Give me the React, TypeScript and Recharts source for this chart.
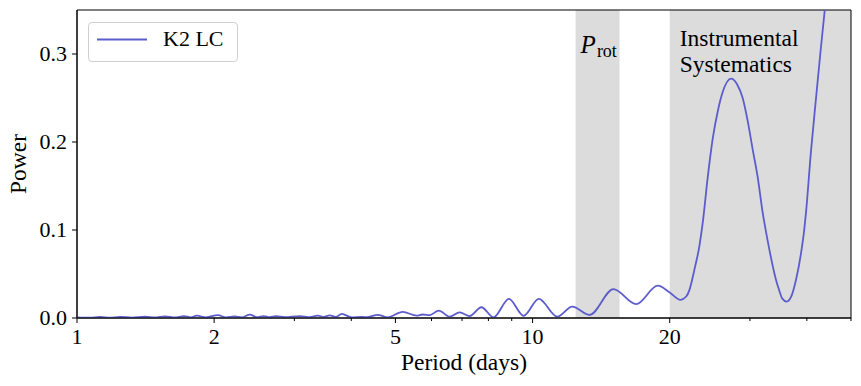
import React from "react";
import { ComposedChart, Line, XAxis, YAxis, ReferenceArea, Legend } from "recharts";

const periods = [
  1.0, 1.068, 1.123, 1.181, 1.243, 1.32, 1.41, 1.483, 1.56, 1.64, 1.717, 1.778, 1.833, 1.919,
  2.038, 2.122, 2.221, 2.3, 2.395, 2.481, 2.571, 2.65, 2.732, 2.859, 3.083, 3.243, 3.377, 3.481,
  3.588, 3.698, 3.812, 4.009, 4.217, 4.347, 4.573, 4.809, 5.187, 5.568, 5.74, 5.945, 6.222, 6.577,
  6.918, 7.276, 7.72, 8.212, 8.873, 9.557, 10.32, 11.33, 12.22, 13.34, 15.05, 16.88, 18.83, 20.0,
  21.12, 21.74, 22.1, 22.66, 23.24, 23.63, 24.24, 24.86, 25.5, 26.15, 27.28, 28.09, 28.92, 29.66,
  30.41, 31.2, 31.99, 32.81, 33.09, 34.22, 34.81, 35.34, 36.12, 36.93, 37.87, 38.85, 39.49, 39.83,
  40.85, 41.9, 42.81, 43.85, 45.96,
];
const powers = [
  0.0008, 0.0004, 0.0012, 0.0004, 0.0012, 0.0005, 0.0014, 0.0006, 0.0018, 0.0006, 0.0022, 0.0008, 0.0026, 0.0008,
  0.0032, 0.0008, 0.0018, 0.0008, 0.0038, 0.001, 0.0022, 0.001, 0.002, 0.001, 0.0022, 0.001, 0.0028, 0.0012,
  0.003, 0.0012, 0.0046, 0.0008, 0.0012, 0.001, 0.0036, 0.0008, 0.007, 0.0027, 0.004, 0.0032, 0.0084, 0.0015,
  0.0065, 0.0022, 0.0122, 0.0008, 0.0218, 0.0025, 0.0218, 0.0015, 0.013, 0.0034, 0.0328, 0.0157, 0.0367, 0.029,
  0.0206, 0.0244, 0.032, 0.055, 0.082, 0.108, 0.16, 0.204, 0.235, 0.257, 0.272, 0.266, 0.25, 0.224,
  0.192, 0.16, 0.12, 0.088, 0.078, 0.0435, 0.031, 0.022, 0.0187, 0.024, 0.0435, 0.074, 0.101, 0.12,
  0.19, 0.25, 0.3, 0.353, 0.46,
];

const xTicks = [1, 2, 3, 4, 5, 6, 7, 8, 9, 10, 20, 30, 40, 50];
const xLabelled = [1, 2, 5, 10, 20];
const yTicks = [0, 0.1, 0.2, 0.3];
const protRange = [12.43, 15.52];
const instRange = [20, 50];
const seriesName = "K2 LC";
const LINE_COLOR = "#5c5ccc";
const FONT = "Liberation Serif";

const data = periods.map((p, i) => ({ p, power: powers[i] }));

const txt = { fontFamily: FONT };

const XTick = (props: any) => {
  const { x, y, payload } = props;
  const major = xLabelled.includes(payload.value);
  return (
    <g>
      <line x1={x} x2={x} y1={y} y2={y + (major ? 5 : 3)} stroke="#000" strokeWidth={1} />
      {major && (
        <text x={x} y={y + 26} textAnchor="middle" style={txt} fontSize={22} fill="#000">
          {payload.value}
        </text>
      )}
    </g>
  );
};

const YTick = (props: any) => {
  const { x, y, payload } = props;
  return (
    <g>
      <line x1={x - 5} x2={x} y1={y} y2={y} stroke="#000" strokeWidth={1} />
      <text x={x - 10} y={y + 7} textAnchor="end" style={txt} fontSize={22} fill="#000">
        {Number(payload.value).toFixed(1)}
      </text>
    </g>
  );
};

const XLabel = (props: any) => {
  const vb = props.viewBox || {};
  return (
    <text x={vb.x + vb.width / 2} y={vb.y + 52} textAnchor="middle" style={txt} fontSize={23.5} fill="#000">
      Period (days)
    </text>
  );
};

const YLabel = (props: any) => {
  const vb = props.viewBox || {};
  const cx = vb.x + 26;
  const cy = vb.y + vb.height / 2;
  return (
    <text x={cx} y={cy} transform={`rotate(-90 ${cx} ${cy})`} textAnchor="middle" style={txt} fontSize={23.5} fill="#000">
      Power
    </text>
  );
};

const ProtLabel = (props: any) => {
  const vb = props.viewBox || {};
  return (
    <text x={vb.x + 5} y={vb.y + 43} style={txt} fill="#000">
      <tspan fontSize={25} fontStyle="italic">P</tspan>
      <tspan fontSize={18} dy={4} dx={1}>rot</tspan>
    </text>
  );
};

const InstLabel = (props: any) => {
  const vb = props.viewBox || {};
  return (
    <text style={txt} fontSize={23.5} fill="#000">
      <tspan x={vb.x + 10} y={vb.y + 36}>Instrumental</tspan>
      <tspan x={vb.x + 10} y={vb.y + 62}>Systematics</tspan>
    </text>
  );
};

const LegendBox = () => (
  <div
    style={{
      width: 148,
      height: 38,
      border: "1px solid #d0d0d0",
      borderRadius: 4,
      background: "rgba(255,255,255,0.85)",
      position: "relative",
      fontFamily: FONT,
      fontSize: 22,
    }}
  >
    <svg width={60} height={38} style={{ position: "absolute", left: 0, top: 0 }}>
      <line x1={8} x2={58} y1={16.5} y2={16.5} stroke={LINE_COLOR} strokeWidth={2} />
    </svg>
    <span style={{ position: "absolute", left: 74, top: 3, lineHeight: "26px", color: "#000" }}>{seriesName}</span>
  </div>
);

export default function App() {
  return (
    <div style={{ position: "absolute", left: 0, top: 0, width: 861, height: 386, background: "#fff" }}>
      <ComposedChart
        width={861}
        height={386}
        data={data}
        margin={{ top: 10, right: 10, bottom: 0, left: 0 }}
      >
        <ReferenceArea
          x1={protRange[0]}
          x2={protRange[1]}
          y1={0}
          y2={0.35}
          fill="#dcdcdc"
          fillOpacity={1}
          stroke="none"
          label={<ProtLabel />}
        />
        <ReferenceArea
          x1={instRange[0]}
          x2={instRange[1]}
          y1={0}
          y2={0.35}
          fill="#dcdcdc"
          fillOpacity={1}
          stroke="none"
          label={<InstLabel />}
        />
        <XAxis
          dataKey="p"
          type="number"
          scale="log"
          domain={[1, 50]}
          allowDataOverflow
          ticks={xTicks}
          interval={0}
          tickSize={0}
          tickMargin={0}
          tickLine={false}
          tick={<XTick />}
          height={68}
          axisLine={{ stroke: "#000", strokeWidth: 1 }}
          label={<XLabel />}
        />
        <YAxis
          type="number"
          domain={[0, 0.35]}
          allowDataOverflow
          ticks={yTicks}
          interval={0}
          tickSize={0}
          tickMargin={0}
          tickLine={false}
          tick={<YTick />}
          width={77}
          axisLine={{ stroke: "#000", strokeWidth: 1 }}
          label={<YLabel />}
        />
        <Line
          type="monotone"
          dataKey="power"
          name={seriesName}
          stroke={LINE_COLOR}
          strokeWidth={1.8}
          dot={false}
          activeDot={false}
          isAnimationActive={false}
        />
        <ReferenceArea
          x1={1}
          x2={50}
          y1={0}
          y2={0.35}
          fill="none"
          stroke="#000"
          strokeWidth={1}
        />
        <Legend
          layout="horizontal"
          verticalAlign="middle"
          align="center"
          content={<LegendBox />}
          wrapperStyle={{ left: 88, top: 22, width: 150, height: 40 }}
        />
      </ComposedChart>
    </div>
  );
}
